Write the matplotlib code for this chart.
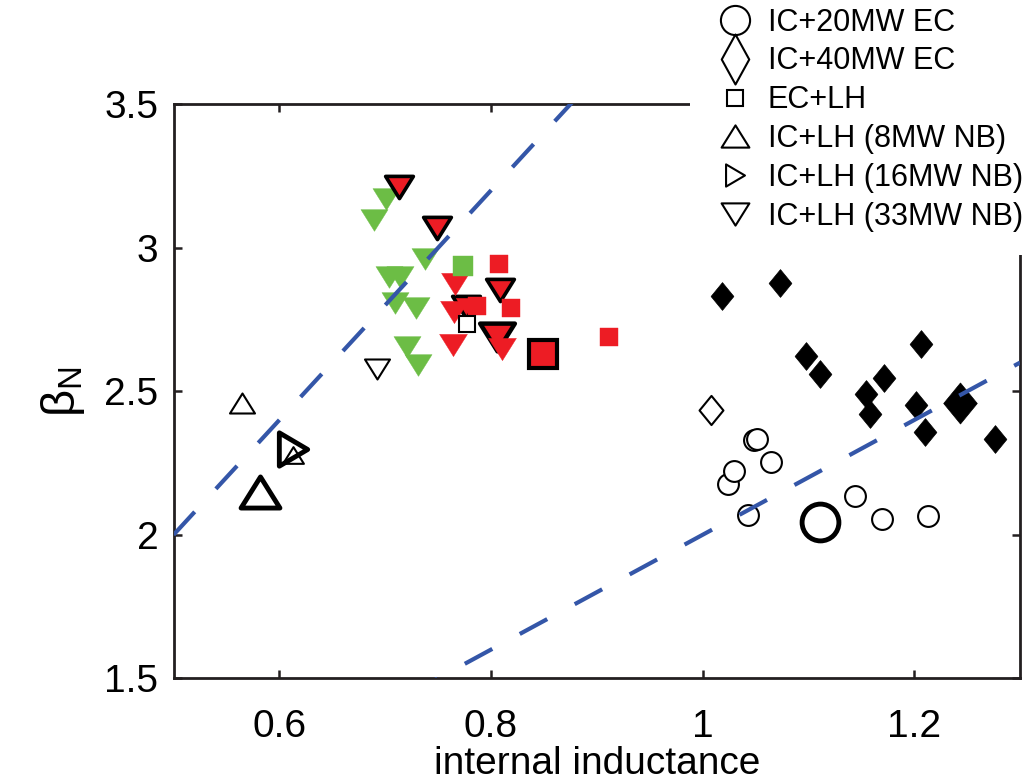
import matplotlib
matplotlib.use('Agg')
import matplotlib.pyplot as plt
from matplotlib.lines import Line2D
from matplotlib.path import Path
import numpy as np

plt.rcParams['font.family'] = ['Liberation Sans', 'DejaVu Sans']
plt.rcParams['mathtext.fontset'] = 'custom'
plt.rcParams['mathtext.rm'] = 'Liberation Sans'

# IC + 20MW EC (open circles), one highlighted case
ec20_li = [1.043, 1.024, 1.030, 1.049, 1.051, 1.065, 1.144, 1.170, 1.213]
ec20_beta = [2.069, 2.177, 2.222, 2.330, 2.333, 2.255, 2.136, 2.055, 2.066]
ec20_ref_li = [1.111]
ec20_ref_beta = [2.046]

# IC + 40MW EC (diamonds)
ec40_li = [1.018, 1.073, 1.098, 1.111, 1.154, 1.158, 1.171, 1.206, 1.202, 1.210, 1.276]
ec40_beta = [2.833, 2.878, 2.623, 2.559, 2.490, 2.421, 2.545, 2.664, 2.452, 2.357, 2.334]
ec40_ref_li = [1.243]
ec40_ref_beta = [2.460]
ec40_open_li = [1.008]
ec40_open_beta = [2.435]

# EC + LH (squares)
eclh_red_li = [0.808, 0.787, 0.819, 0.912]
eclh_red_beta = [2.943, 2.798, 2.789, 2.690]
eclh_green_li = [0.774]
eclh_green_beta = [2.937]
eclh_open_li = [0.777]
eclh_open_beta = [2.734]
eclh_ref_li = [0.849]
eclh_ref_beta = [2.629]

# IC + LH, 33MW NB (down triangles)
nb33_green_li = [0.701, 0.689, 0.738, 0.704, 0.714, 0.709, 0.729, 0.7205, 0.731]
nb33_green_beta = [3.170, 3.097, 2.962, 2.897, 2.898, 2.808, 2.790, 2.653, 2.593]
nb33_red_li = [0.766, 0.765, 0.764, 0.810]
nb33_red_beta = [2.874, 2.775, 2.661, 2.647]
nb33_edge_li = [0.7135, 0.749, 0.809, 0.776]
nb33_edge_beta = [3.213, 3.068, 2.853, 2.795]
nb33_ref_li = [0.806]
nb33_ref_beta = [2.689]
nb33_open_li = [0.692]
nb33_open_beta = [2.578]

# IC + LH, 8MW NB (up triangles) and 16MW NB (right triangle)
nb8_li = [0.565]
nb8_beta = [2.458]
nb8_small_li = [0.613]
nb8_small_beta = [2.279]
nb8_ref_li = [0.582]
nb8_ref_beta = [2.150]
nb16_ref_li = [0.613]
nb16_ref_beta = [2.298]

# guide lines beta_N = k * li
guide_li = [0.5, 1.3]
guide_slopes = [4.0, 2.0]

GREEN = '#6cbd45'
RED = '#ed1c24'
BLUE = '#3456a8'


def poly_marker(pts):
    return Path(pts + [pts[0]], closed=True)


tri_down = poly_marker([(-1, 0.8), (1, 0.8), (0, -0.8)])
tri_up = poly_marker([(-1, -0.8), (1, -0.8), (0, 0.8)])
tri_right = poly_marker([(-0.85, -1), (-0.85, 1), (0.85, 0)])
diamond = poly_marker([(0, 1), (0.82, 0), (0, -1), (-0.82, 0)])
diamond_leg = poly_marker([(0, 1), (0.55, 0), (0, -1), (-0.55, 0)])

fig = plt.figure(figsize=(10.36, 7.82), dpi=100)
ax = fig.add_axes([0.1675, 0.1326, 0.8171, 0.7340])


def pts(x, y, **kw):
    ax.plot(x, y, ls='none', **kw)


# circles
pts(ec20_li, ec20_beta, marker='o', ms=15, mfc='white', mec='k', mew=1.5)
pts(ec20_ref_li, ec20_ref_beta, marker='o', ms=26.5, mfc='white', mec='k', mew=3.5)

# diamonds
pts(ec40_li, ec40_beta, marker=diamond, ms=20, mfc='k', mec='k', mew=0.5)
pts(ec40_ref_li, ec40_ref_beta, marker=diamond, ms=29.5, mfc='k', mec='k', mew=0.5)
pts(ec40_open_li, ec40_open_beta, marker=diamond, ms=21, mfc='white', mec='k', mew=1.5)

# down triangles
pts(nb33_green_li, nb33_green_beta, marker=tri_down, ms=19.5, mfc=GREEN, mec=GREEN, mew=0.3)
pts(nb33_edge_li, nb33_edge_beta, marker=tri_down, ms=20, mfc=RED, mec='k', mew=2.6)
pts(nb33_ref_li, nb33_ref_beta, marker=tri_down, ms=25, mfc=RED, mec='k', mew=3.2)
pts(nb33_red_li, nb33_red_beta, marker=tri_down, ms=20, mfc=RED, mec=RED, mew=0.3)
pts(nb33_open_li, nb33_open_beta, marker=tri_down, ms=18, mfc='white', mec='k', mew=1.5)

# squares
pts(eclh_green_li, eclh_green_beta, marker='s', ms=14, mfc=GREEN, mec=GREEN, mew=0.3)
pts(eclh_red_li, eclh_red_beta, marker='s', ms=13.5, mfc=RED, mec=RED, mew=0.3)
pts(eclh_ref_li, eclh_ref_beta, marker='s', ms=19.5, mfc=RED, mec='k', mew=3)
pts(eclh_open_li, eclh_open_beta, marker='s', ms=12, mfc='white', mec='k', mew=1.5)

# up / right triangles
pts(nb8_li, nb8_beta, marker=tri_up, ms=18, mfc='white', mec='k', mew=1.5)
pts(nb8_ref_li, nb8_ref_beta, marker=tri_up, ms=28, mfc='white', mec='k', mew=3.5)
pts(nb16_ref_li, nb16_ref_beta, marker=tri_right, ms=24, mfc='white', mec='k', mew=3.5)
pts(nb8_small_li, nb8_small_beta, marker=tri_up, ms=15, mfc='none', mec='k', mew=1.5)

# dashed guide lines
for k in guide_slopes:
    ax.plot(guide_li, [k * v for v in guide_li], color=BLUE, lw=3.0,
            dashes=(7.5, 7.5), zorder=6)

ax.set_xlim(0.5, 1.3)
ax.set_ylim(1.5, 3.5)
ax.set_xticks([0.6, 0.8, 1.0, 1.2])
ax.set_xticklabels(['0.6', '0.8', '1', '1.2'])
ax.set_yticks([1.5, 2, 2.5, 3, 3.5])
ax.set_yticklabels(['1.5', '2', '2.5', '3', '3.5'])

for s in ax.spines.values():
    s.set_linewidth(2.0)
    s.set_color('#231f20')
ax.tick_params(direction='in', top=True, right=True, length=6, width=1.8,
               color='#231f20')
ax.tick_params(axis='x', labelsize=28, pad=22)
ax.tick_params(axis='y', labelsize=28, pad=11)

ax.set_xlabel('internal inductance', fontsize=28)
ax.xaxis.set_label_coords(0.5, -0.1176)
ax.set_ylabel('β$_{\\mathregular{N}}$', fontsize=34)
ax.yaxis.set_label_coords(-0.102, 0.50)

handles = [
    Line2D([], [], ls='none', marker='o', ms=21, mfc='white', mec='k', mew=1.5),
    Line2D([], [], ls='none', marker=diamond_leg, ms=36, mfc='white', mec='k', mew=1.5),
    Line2D([], [], ls='none', marker='s', ms=11.5, mfc='white', mec='k', mew=1.5),
    Line2D([], [], ls='none', marker=tri_up, ms=20, mfc='white', mec='k', mew=1.5),
    Line2D([], [], ls='none', marker=tri_right, ms=16, mfc='white', mec='k', mew=1.5),
    Line2D([], [], ls='none', marker=tri_down, ms=20, mfc='white', mec='k', mew=1.5),
]
labels = ['IC+20MW EC', 'IC+40MW EC', 'EC+LH', 'IC+LH (8MW NB)',
          'IC+LH (16MW NB)', 'IC+LH (33MW NB)']
leg = ax.legend(handles, labels, loc='upper left',
                bbox_to_anchor=(690 / 1036, 1 + 16 / 782),
                bbox_transform=fig.transFigure, fontsize=22,
                handlelength=1.4, handletextpad=0.38, labelspacing=0.29,
                borderpad=0.77, borderaxespad=0, frameon=True,
                fancybox=False, framealpha=1)
leg.get_frame().set_facecolor('white')
leg.get_frame().set_edgecolor('none')
leg.set_zorder(10)

fig.savefig('out.png', dpi=100)
